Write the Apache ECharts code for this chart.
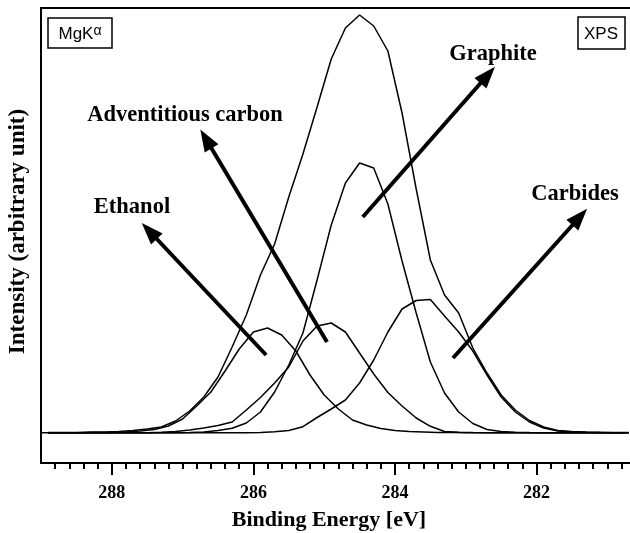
<!DOCTYPE html>
<html><head><meta charset="utf-8">
<script src="https://cdn.jsdelivr.net/npm/echarts@6/dist/echarts.min.js"></script>
<style>html,body{margin:0;padding:0;background:#fff}#c{width:630px;height:533px}</style>
</head><body><div id="c"></div>
<script>
// Binding energies (eV) of the sampled points
const energies = [288.9,288.7,288.5,288.3,288.1,287.9,287.7,287.5,287.3,287.1,286.9,286.7,286.5,286.3,286.1,285.9,285.7,285.5,285.3,285.1,284.9,284.7,284.5,284.3,284.1,283.9,283.7,283.5,283.3,283.1,282.9,282.7,282.5,282.3,282.1,281.9,281.7,281.5,281.3,281.1,280.9,280.7];
const ethanolEnergies = [289.0,288.8,288.6,288.4,288.2,288.0,287.8,287.6,287.4,287.2,287.0,286.8,286.6,286.4,286.2,286.0,285.8,285.6,285.4,285.2,285.0,284.8,284.6,284.4,284.2,284.0,283.8,283.6,283.4,283.2,283.0,282.8,282.6,282.4,282.2,282.0,281.8,281.6,281.4,281.2,281.0,280.8];

// Intensities (arbitrary unit)
const envelope = [0.5,0.5,0.5,1,1,1.5,2.5,4,6,12,22,36,56,86,118,158,189,236,279,326,374,405,418,407,382,320,244,173,138,120,85,60,38,23,12.5,6,2.5,1.5,1,0.7,0.5,0.5];
const graphite = [0.3,0.3,0.3,0.3,0.3,0.3,0.3,0.3,0.3,0.3,0.5,1,2.5,4.7,10,21,41,68,100,153,208,250,270,265,229,172,120,71,40,21,9.5,3.5,1.5,0.8,0.5,0.3,0.3,0.3,0.3,0.3,0.3,0.3];
const adventitious = [0.3,0.3,0.3,0.3,0.3,0.3,0.3,0.3,0.7,1.5,3,5,7.5,11,23,35.5,50,66,92,107,110,101,80,59,40.5,27,15,6.7,1.5,0.8,0.5,0.3,0.3,0.3,0.3,0.3,0.3,0.3,0.3,0.3,0.3,0.3];
const carbides = [0.2,0.2,0.2,0.2,0.2,0.2,0.2,0.2,0.2,0.2,0.2,0.2,0.2,0.2,0.2,0.5,1.2,2.5,6.3,15.5,24,33,50,73,101,124,132.5,133.5,117,101,82,58,36,21,11,5,2,1,0.7,0.5,0.3,0.3];
const ethanol = [0.3,0.3,0.3,0.3,0.4,0.5,1,2,3.5,7,14,27,41,62,84,101,105,98,82,58,38,24,13,8,4.5,2.5,1.5,1,0.5,0.4,0.3,0.3,0.3,0.3,0.3,0.3,0.3,0.3,0.3,0.3,0.3,0.3];

// Axis ticks
const majorTicks = [288, 286, 284, 282];
const minorTicks = [288.8,288.6,288.4,288.2,288.0,287.8,287.6,287.4,287.2,287.0,286.8,286.6,286.4,286.2,286.0,285.8,285.6,285.4,285.2,285.0,284.8,284.6,284.4,284.2,284.0,283.8,283.6,283.4,283.2,283.0,282.8,282.6,282.4,282.2,282.0,281.8,281.6,281.4,281.2,281.0,280.8];

// Annotation arrows (data coordinates: tail -> head)
const arrowNames = ['Ethanol', 'Adventitious carbon', 'Graphite', 'Carbides'];
const arrowTails = [[285.82, 78], [284.96, 91], [284.455, 216], [283.18, 75]];
const arrowHeads = [[287.47, 202], [286.67, 294], [282.69, 358], [281.39, 216]];

const pairs = (xs, ys) => xs.map((x, i) => [x, ys[i]]);
const serif = '"Liberation Serif", "Times New Roman", serif';
const sans = '"Liberation Sans", Arial, sans-serif';

const lineSeries = (name, xs, ys) => ({
  name, type: 'line', data: pairs(xs, ys), showSymbol: false, symbol: 'none',
  smooth: false, animation: false, silent: true, xAxisIndex: 0, yAxisIndex: 0,
  lineStyle: { color: '#000', width: 1.5 }
});

const chart = echarts.init(document.getElementById('c'), null, { renderer: 'canvas' });
const series = [
  lineSeries('Envelope', energies, envelope),
  lineSeries('Graphite', energies, graphite),
  lineSeries('Adventitious carbon', energies, adventitious),
  lineSeries('Carbides', energies, carbides),
  lineSeries('Ethanol', ethanolEnergies, ethanol)
];
series[0].markLine = {
  silent: true, animation: false,
  symbol: ['none', 'triangle'], symbolSize: [16, 22],
  label: { show: false },
  lineStyle: { color: '#000', width: 4, type: 'solid' },
  emphasis: { disabled: true },
  data: arrowNames.map((n, i) => [{ name: n, coord: arrowTails[i] }, { coord: arrowHeads[i] }])
};

const X_MIN = 280.68, X_MAX = 289;
chart.setOption({
  backgroundColor: '#fff',
  animation: false,
  grid: { left: 41, right: 0, top: 8, bottom: 70, containLabel: false, outerBoundsMode: 'none' },
  xAxis: [{
    type: 'value', inverse: true, min: X_MIN, max: X_MAX, position: 'bottom',
    axisLine: { show: true, onZero: false, lineStyle: { color: '#000', width: 2 } },
    axisTick: { show: true, customValues: majorTicks, length: 12, lineStyle: { color: '#000', width: 2 } },
    axisLabel: { show: true, customValues: majorTicks, margin: 21, color: '#000', fontFamily: serif, fontWeight: 'bold', fontSize: 18 },
    splitLine: { show: false },
    name: 'Binding Energy [eV]', nameLocation: 'middle', nameGap: 46,
    nameTextStyle: { color: '#000', fontFamily: serif, fontWeight: 'bold', fontSize: 22, lineHeight: 22, padding: [0, 13, 0, 0] }
  }, {
    type: 'value', inverse: true, min: X_MIN, max: X_MAX, position: 'bottom',
    axisLine: { show: false, onZero: false },
    axisTick: { show: true, customValues: minorTicks, length: 6, lineStyle: { color: '#000', width: 2 } },
    axisLabel: { show: false },
    splitLine: { show: false }
  }, {
    type: 'value', inverse: true, min: X_MIN, max: X_MAX, position: 'top',
    axisLine: { show: true, onZero: false, lineStyle: { color: '#000', width: 2 } },
    axisTick: { show: false }, axisLabel: { show: false }, splitLine: { show: false }
  }],
  yAxis: {
    type: 'value', min: -30, max: 425,
    axisLine: { show: true, onZero: false, lineStyle: { color: '#000', width: 2 } },
    axisTick: { show: false }, axisLabel: { show: false }, splitLine: { show: false },
    name: 'Intensity (arbitrary unit)', nameLocation: 'middle', nameGap: 11,
    nameTextStyle: { color: '#000', fontFamily: serif, fontWeight: 'bold', fontSize: 23, padding: [0, 0, 0, 8] }
  },
  graphic: [
    { type: 'rect', shape: { x: 48, y: 18, width: 64, height: 30 }, style: { fill: 'none', stroke: '#000', lineWidth: 1.5 }, z: 10 },
    { type: 'text', x: 80, y: 34, style: { text: 'MgK{a|α}', textAlign: 'center', textVerticalAlign: 'middle', font: '17px ' + sans, fill: '#000',
        rich: { a: { fontSize: 14, fontFamily: sans, verticalAlign: 'top', padding: [0, 0, 6, 0] } } }, z: 10 },
    { type: 'rect', shape: { x: 578, y: 17, width: 47, height: 32 }, style: { fill: 'none', stroke: '#000', lineWidth: 1.5 }, z: 10 },
    { type: 'text', x: 601, y: 34, style: { text: 'XPS', textAlign: 'center', textVerticalAlign: 'middle', font: '17px ' + sans, fill: '#000' }, z: 10 },
    { type: 'text', x: 185, y: 115, style: { text: arrowNames[1], textAlign: 'center', textVerticalAlign: 'middle', font: 'bold 22.5px ' + serif, fill: '#000' }, z: 10 },
    { type: 'text', x: 132, y: 207, style: { text: arrowNames[0], textAlign: 'center', textVerticalAlign: 'middle', font: 'bold 22.5px ' + serif, fill: '#000' }, z: 10 },
    { type: 'text', x: 493, y: 54, style: { text: arrowNames[2], textAlign: 'center', textVerticalAlign: 'middle', font: 'bold 22.5px ' + serif, fill: '#000' }, z: 10 },
    { type: 'text', x: 575, y: 194, style: { text: arrowNames[3], textAlign: 'center', textVerticalAlign: 'middle', font: 'bold 22.5px ' + serif, fill: '#000' }, z: 10 }
  ],
  series
});
</script></body></html>
